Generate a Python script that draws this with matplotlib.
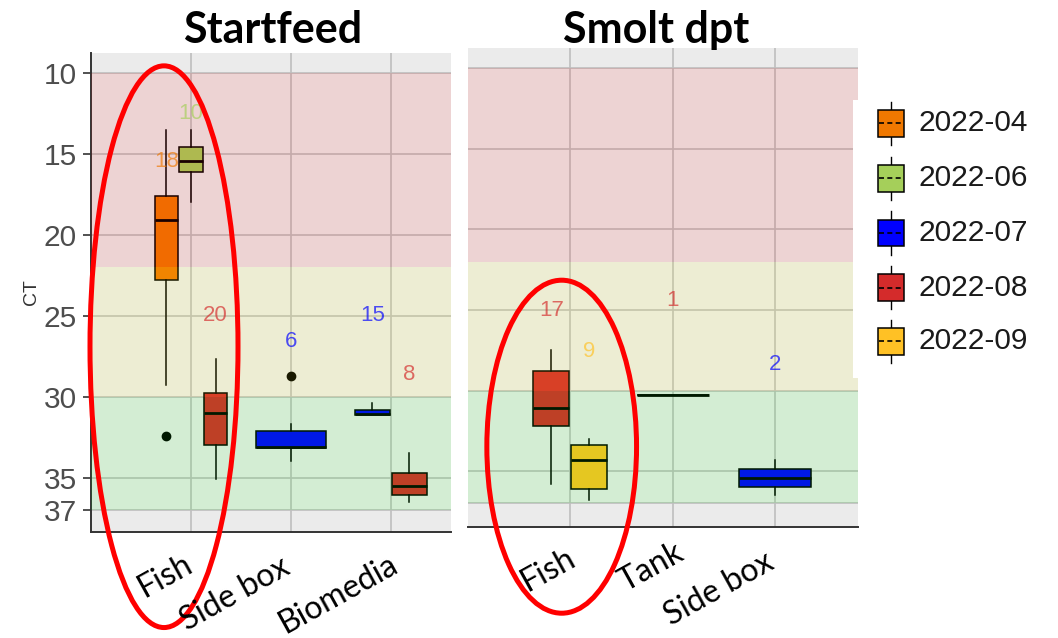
import numpy as np
import matplotlib.pyplot as plt
from matplotlib.patches import Ellipse, Rectangle

plt.rcParams['font.family'] = ['Liberation Sans', 'DejaVu Sans']

# months and their fill colours
months = ["2022-04", "2022-06", "2022-07", "2022-08", "2022-09"]
month_colors = ["#F07800", "#A5CF5A", "#0000FF", "#D42B2B", "#FFC125"]

# CT threshold bands
band_lo = [10, 22, 30]
band_hi = [22, 30, 37]
band_colors = ["#FF0000", "#FFFF00", "#00FF00"]
y_ticks = [10, 15, 20, 25, 30, 35, 37]

# Startfeed boxes (five-number summaries)
sf_categories = ["Fish", "Side box", "Biomedia"]
sf_cat = ["Fish", "Fish", "Fish", "Side box", "Biomedia", "Biomedia"]
sf_month = ["2022-04", "2022-06", "2022-08", "2022-07", "2022-07", "2022-08"]
sf_whislo = [13.5, 13.5, 27.7, 31.7, 30.4, 33.5]
sf_q1 = [17.6, 14.6, 29.8, 32.1, 30.8, 34.7]
sf_med = [19.1, 15.45, 31.0, 33.1, 31.05, 35.5]
sf_q3 = [22.8, 16.1, 33.0, 33.2, 31.15, 36.1]
sf_whishi = [29.3, 18.0, 35.1, 34.0, 31.15, 36.5]
sf_fliers = [[32.4], [], [], [28.7], [], []]
sf_n = [18, 10, 20, 6, 15, 8]
sf_n_y = [15.5, 12.5, 25.0, 26.6, 25.0, 28.6]

# Smolt dpt boxes
sm_categories = ["Fish", "Tank", "Side box"]
sm_cat = ["Fish", "Fish", "Tank", "Side box"]
sm_month = ["2022-08", "2022-09", "2022-08", "2022-07"]
sm_whislo = [27.5, 33.0, 30.3, 34.3]
sm_q1 = [28.8, 33.4, 30.3, 34.9]
sm_med = [31.1, 34.3, 30.3, 35.4]
sm_q3 = [32.2, 36.1, 30.3, 36.0]
sm_whishi = [35.8, 36.8, 30.3, 36.5]
sm_fliers = [[], [], [], []]
sm_n = [17, 9, 1, 2]
sm_n_y = [25.05, 27.6, 24.4, 28.4]


def draw_panel(ax, categories, cat, month, lo, q1, med, q3, hi, fliers, n, n_y):
    ax.set_facecolor('#EBEBEB')
    for i, c in enumerate(categories):
        idx = [j for j in range(len(cat)) if cat[j] == c]
        k = len(idx)
        slot = 0.74 / k
        for m, j in enumerate(idx):
            pos = i + 1 + (m - (k - 1) / 2) * slot
            col = month_colors[months.index(month[j])]
            stats = [dict(whislo=lo[j], q1=q1[j], med=med[j], q3=q3[j],
                          whishi=hi[j], fliers=fliers[j])]
            ax.bxp(stats, positions=[pos], widths=[slot * 0.95],
                   patch_artist=True, showcaps=False, manage_ticks=False,
                   boxprops=dict(facecolor=col, edgecolor='black', linewidth=1.1),
                   medianprops=dict(color='black', linewidth=2),
                   whiskerprops=dict(color='black', linewidth=1.1),
                   flierprops=dict(marker='o', markerfacecolor='black',
                                   markeredgecolor='black', markersize=6))
            ax.text(pos, n_y[j], str(n[j]), color=col, alpha=0.68,
                    ha='center', va='center', fontsize=16, zorder=5)
    for b0, b1, bc in zip(band_lo, band_hi, band_colors):
        ax.axhspan(b0, b1, color=bc, alpha=0.1, lw=0, zorder=3)
    ax.set_yticks(y_ticks)
    ax.set_xticks(range(1, len(categories) + 1))
    ax.set_xticklabels([])
    ax.tick_params(axis='x', length=0)
    ax.set_axisbelow(True)
    ax.grid(True, color='#BEBEBE', linewidth=1.2)
    for s in ['top', 'right', 'left']:
        ax.spines[s].set_visible(False)
    ax.spines['bottom'].set_color('#333333')
    ax.spines['bottom'].set_linewidth(1.4)


fig = plt.figure(figsize=(10.58, 6.38), dpi=100)

ax1 = fig.add_axes([91 / 1058, 1 - 532 / 638, 360 / 1058, 479 / 638])
draw_panel(ax1, sf_categories, sf_cat, sf_month, sf_whislo, sf_q1, sf_med,
           sf_q3, sf_whishi, sf_fliers, sf_n, sf_n_y)
ax1.set_xlim(0, 3.6)
ax1.set_ylim(38.36, 8.77)
ax1.spines['left'].set_visible(True)
ax1.spines['left'].set_color('#333333')
ax1.spines['left'].set_linewidth(1.4)
ax1.tick_params(axis='y', labelsize=21.5, labelcolor='#4D4D4D', length=6,
                width=1.2, color='#333333', pad=4)
ax1.set_ylabel('CT', fontsize=14, color='#333333', labelpad=3)

ax2 = fig.add_axes([467.7 / 1058, 1 - 526.7 / 638, 390.3 / 1058, 478.4 / 638])
draw_panel(ax2, sm_categories, sm_cat, sm_month, sm_whislo, sm_q1, sm_med,
           sm_q3, sm_whishi, sm_fliers, sm_n, sm_n_y)
ax2.set_xlim(0, 3.81)
ax2.set_ylim(38.45, 8.76)
ax2.tick_params(axis='y', left=False, labelleft=False)

# overlay in pixel coordinates for titles, labels, legend and annotations
ov = fig.add_axes([0, 0, 1, 1], zorder=10)
ov.set_xlim(0, 1058)
ov.set_ylim(638, 0)
ov.axis('off')
ov.patch.set_alpha(0)

ov.text(272.6, 43.3, 'Startfeed', family=['Lato', 'DejaVu Sans'],
        fontweight='bold', fontsize=31, ha='center', va='baseline')
ov.text(656, 43.3, 'Smolt dpt', family=['Lato', 'DejaVu Sans'],
        fontweight='bold', fontsize=31, ha='center', va='baseline')

sf_label_xy = [(165, 576), (235, 594), (338, 594)]
sm_label_xy = [(548, 570), (651, 567), (719, 589)]
for labels, xy in [(sf_categories, sf_label_xy), (sm_categories, sm_label_xy)]:
    for lab, (x, y) in zip(labels, xy):
        ov.text(x, y, lab, family=['Lato', 'DejaVu Sans'], fontsize=23,
                rotation=29, rotation_mode='anchor', ha='center', va='center')

# legend
ov.add_patch(Rectangle((853, 100), 205, 278, facecolor='white', lw=0))
leg_y = [123.3, 178.3, 233.0, 287.7, 341.3]
for mth, col, c in zip(months, month_colors, leg_y):
    ov.plot([891, 891], [c - 21.6, c + 21.6], color='black', lw=1)
    ov.add_patch(Rectangle((877.7, c - 13.3), 26.6, 26.6, facecolor=col,
                           edgecolor='black', lw=1.1, zorder=3))
    ov.plot([878.5, 903.5], [c, c], color='black', lw=1.2,
            ls=(0, (3, 2)), zorder=4)
    ov.text(918, c, mth, fontsize=21.5, color='#1A1A1A', va='center', ha='left')

# red highlight ellipses
ov.add_patch(Ellipse((164, 346.7), 148, 561.7, fill=False, edgecolor='#FF0000', lw=3.6))
ov.add_patch(Ellipse((561.7, 446.7), 149.7, 333, fill=False, edgecolor='#FF0000', lw=3.6))

fig.savefig('out.png', dpi=100)
